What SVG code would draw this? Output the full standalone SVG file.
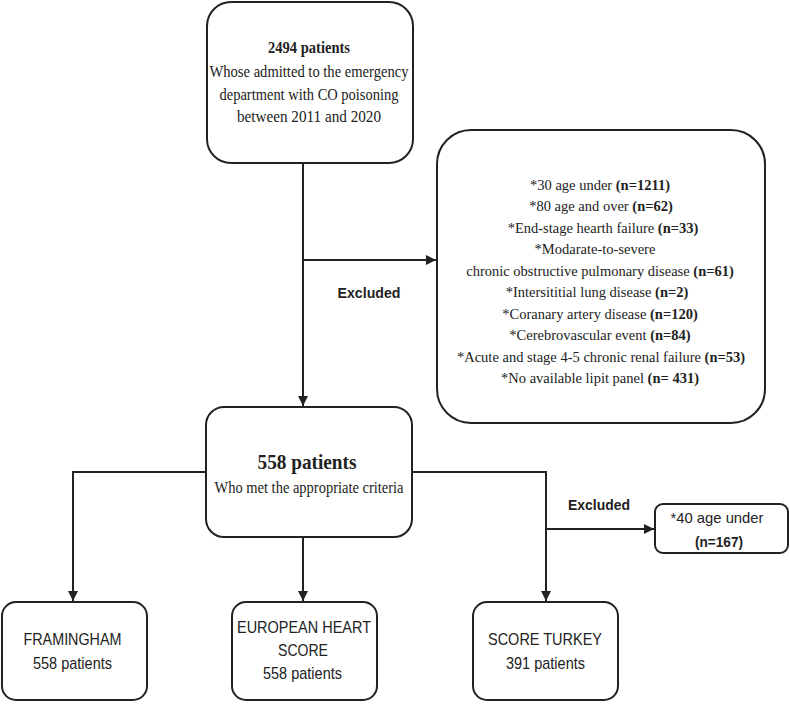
<svg xmlns="http://www.w3.org/2000/svg" width="790" height="704" viewBox="0 0 790 704">
<defs>
<style>
.box{fill:#fff;stroke:#222;stroke-width:2}
.ln{fill:none;stroke:#222;stroke-width:2}
.serif{font-family:"Liberation Serif","Times New Roman",serif;fill:#222;text-anchor:middle}
.ex{font-family:"Liberation Serif","Times New Roman",serif;font-size:14.5px;fill:#222;text-anchor:middle}
.sans{font-family:"Liberation Sans",Arial,sans-serif;fill:#222;text-anchor:middle}
.b{font-weight:bold}
</style>
<marker id="ah" viewBox="0 0 10 10" refX="10" refY="5" markerWidth="5" markerHeight="5" markerUnits="strokeWidth" orient="auto">
<path d="M0,0 L10,5 L0,10 Z" fill="#222"/>
</marker>
</defs>
<rect width="790" height="704" fill="#fff"/>
<g id="connectors">
<path class="ln" d="M303,163 V406" marker-end="url(#ah)"/>
<path class="ln" d="M303,260 H436" marker-end="url(#ah)"/>
<path class="ln" d="M206,472 H73 V601" marker-end="url(#ah)"/>
<path class="ln" d="M303,537 V601" marker-end="url(#ah)"/>
<path class="ln" d="M412,472 H546 V601" marker-end="url(#ah)"/>
<path class="ln" d="M546,529 H654" marker-end="url(#ah)"/>
<text class="sans b" x="369" y="298" font-size="14" textLength="63" lengthAdjust="spacingAndGlyphs">Excluded</text>
<text class="sans b" x="599" y="510" font-size="14" textLength="62" lengthAdjust="spacingAndGlyphs">Excluded</text>
</g>
<g id="node-start">
<rect class="box" x="207" y="2" width="206" height="161" rx="24"/>
<text class="serif b" x="309" y="53" font-size="17" textLength="82" lengthAdjust="spacingAndGlyphs">2494 patients</text>
<text class="serif" x="309" y="77" font-size="16" textLength="199" lengthAdjust="spacingAndGlyphs">Whose admitted to the emergency</text>
<text class="serif" x="309" y="100" font-size="16" textLength="179" lengthAdjust="spacingAndGlyphs">department with CO poisoning</text>
<text class="serif" x="309" y="122" font-size="16" textLength="144" lengthAdjust="spacingAndGlyphs">between 2011 and 2020</text>
</g>
<g id="node-excluded">
<rect class="box" x="437" y="130" width="328" height="293" rx="34"/>
<text class="ex" x="600" y="190">*30 age under <tspan class="b">(n=1211)</tspan></text>
<text class="ex" x="601" y="211.4">*80 age and over <tspan class="b">(n=62)</tspan></text>
<text class="ex" x="603" y="232.9">*End-stage hearth failure <tspan class="b">(n=33)</tspan></text>
<text class="ex" x="595" y="254.3">*Modarate-to-severe</text>
<text class="ex" x="600" y="275.8">chronic obstructive pulmonary disease <tspan class="b">(n=61)</tspan></text>
<text class="ex" x="597" y="297.2">*Intersititial lung disease <tspan class="b">(n=2)</tspan></text>
<text class="ex" x="600" y="318.7">*Coranary artery disease <tspan class="b">(n=120)</tspan></text>
<text class="ex" x="600" y="340.1">*Cerebrovascular event <tspan class="b">(n=84)</tspan></text>
<text class="ex" x="601" y="361.6">*Acute and stage 4-5 chronic renal failure <tspan class="b">(n=53)</tspan></text>
<text class="ex" x="600" y="383">*No available lipit panel <tspan class="b">(n= 431)</tspan></text>
</g>
<g id="node-included">
<rect class="box" x="206" y="407" width="206" height="130" rx="18"/>
<text class="serif b" x="307" y="469" font-size="21" textLength="99" lengthAdjust="spacingAndGlyphs">558 patients</text>
<text class="serif" x="309" y="493" font-size="16" textLength="189" lengthAdjust="spacingAndGlyphs">Who met the appropriate criteria</text>
</g>
<g id="node-age40">
<rect class="box" x="655" y="504" width="133" height="49" rx="8"/>
<text class="sans" x="717" y="523" font-size="15" textLength="93" lengthAdjust="spacingAndGlyphs">*40 age under</text>
<text class="sans b" x="719" y="547" font-size="15" textLength="48" lengthAdjust="spacingAndGlyphs">(n=167)</text>
</g>
<g id="node-framingham">
<rect class="box" x="2" y="602" width="145" height="98" rx="14"/>
<text class="sans" x="72.5" y="645" font-size="17" textLength="98" lengthAdjust="spacingAndGlyphs">FRAMINGHAM</text>
<text class="sans" x="72.5" y="669" font-size="17" textLength="79" lengthAdjust="spacingAndGlyphs">558 patients</text>
</g>
<g id="node-european">
<rect class="box" x="232" y="602" width="145" height="98" rx="14"/>
<text class="sans" x="304" y="633" font-size="17" textLength="134" lengthAdjust="spacingAndGlyphs">EUROPEAN HEART</text>
<text class="sans" x="303" y="656" font-size="17" textLength="50" lengthAdjust="spacingAndGlyphs">SCORE</text>
<text class="sans" x="302.5" y="679" font-size="17" textLength="79" lengthAdjust="spacingAndGlyphs">558 patients</text>
</g>
<g id="node-turkey">
<rect class="box" x="473" y="602" width="145" height="98" rx="14"/>
<text class="sans" x="545" y="645" font-size="17" textLength="114" lengthAdjust="spacingAndGlyphs">SCORE TURKEY</text>
<text class="sans" x="545.5" y="669" font-size="17" textLength="79" lengthAdjust="spacingAndGlyphs">391 patients</text>
</g>
</svg>
